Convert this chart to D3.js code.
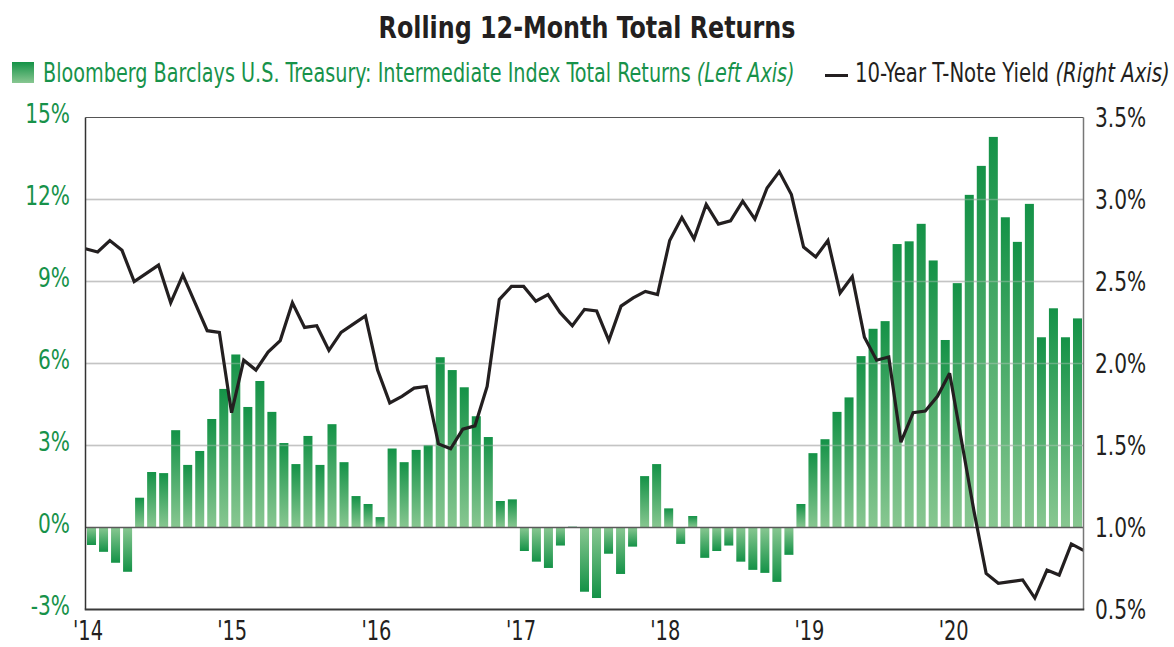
<!DOCTYPE html>
<html>
<head>
<meta charset="utf-8">
<script src="https://cdn.jsdelivr.net/npm/d3@7"></script>
<style>
  body { margin: 0; background: #fff; }
  svg { display: block; }
  text { font-family: "Liberation Sans Narrow", "Arial Narrow", "DejaVu Sans Condensed", sans-serif; }
</style>
</head>
<body>
<svg id="chart" width="1174" height="647"></svg>
<script>
// monthly bars: Jan 2014 .. Nov 2020
const months = d3.timeMonth.range(new Date(2014, 0, 1), new Date(2020, 11, 1));

// Bloomberg Barclays U.S. Treasury: Intermediate, rolling 12-month total return (%)
const treasuryReturns = [
  -0.64, -0.89, -1.29, -1.62, 1.09, 2.03, 1.99, 3.56, 2.29, 2.80, 3.97, 5.07,
  6.33, 4.41, 5.36, 4.23, 3.09, 2.32, 3.35, 2.29, 3.78, 2.39, 1.15, 0.86,
  0.38, 2.89, 2.39, 2.84, 3.01, 6.23, 5.76, 5.13, 4.07, 3.31, 0.97, 1.03,
  -0.86, -1.25, -1.48, -0.66, 0.03, -2.35, -2.58, -0.96, -1.70, -0.70, 1.88, 2.32,
  0.70, -0.60, 0.42, -1.11, -0.86, -0.66, -1.25, -1.55, -1.66, -1.99, -1.00, 0.86,
  2.72, 3.23, 4.23, 4.76, 6.27, 7.27, 7.55, 10.37, 10.47, 11.11, 9.77, 6.86,
  8.94, 12.17, 13.23, 14.29, 11.35, 10.45, 11.84, 6.96, 8.02, 6.96, 7.65
];

// 10-year T-note yield (%)
const noteYield = [
  2.70, 2.68, 2.75, 2.69, 2.50, 2.55, 2.60, 2.37, 2.54, 2.37, 2.20, 2.19,
  1.70, 2.02, 1.96, 2.07, 2.14, 2.37, 2.22, 2.23, 2.08, 2.19, 2.24, 2.29,
  1.96, 1.76, 1.80, 1.85, 1.86, 1.51, 1.48, 1.60, 1.62, 1.86, 2.39, 2.47,
  2.47, 2.38, 2.42, 2.31, 2.23, 2.33, 2.32, 2.14, 2.35, 2.40, 2.44, 2.42,
  2.75, 2.89, 2.76, 2.97, 2.85, 2.87, 2.99, 2.88, 3.07, 3.17, 3.03, 2.71,
  2.65, 2.75, 2.43, 2.53, 2.16, 2.02, 2.04, 1.52, 1.70, 1.71, 1.80, 1.94,
  1.52, 1.10, 0.72, 0.66, 0.67, 0.68, 0.57, 0.74, 0.71, 0.90, 0.86
];

const leftTicks = [-3, 0, 3, 6, 9, 12, 15];
const rightTicks = [0.5, 1.0, 1.5, 2.0, 2.5, 3.0, 3.5];
const yearTicks = d3.timeYear.range(new Date(2014, 0, 1), new Date(2021, 0, 1));

const green = "#17924a", dark = "#231f20";
const svg = d3.select("#chart");
const p = { left: 85.5, right: 1083.5, top: 117.5, bottom: 609.5 };
const squeeze = 0.83; // fallback font is wider than the original condensed face

const xb = d3.scaleBand().domain(months).range([p.left, p.right]).paddingInner(0.25).paddingOuter(0.125);
const xl = d3.scalePoint().domain(months).range([p.left, p.right]);
const xt = d3.scaleTime().domain([months[0], new Date(2020, 11, 1)]).range([p.left, p.right]);
const yL = d3.scaleLinear().domain([-3, 15]).range([p.bottom, p.top]);
const yR = d3.scaleLinear().domain([0.5, 3.5]).range([p.bottom, p.top]);

const defs = svg.append("defs");
function grad(id, c0, c1) {
  const g = defs.append("linearGradient").attr("id", id).attr("x1", 0).attr("y1", 0).attr("x2", 0).attr("y2", 1);
  g.append("stop").attr("offset", "0%").attr("stop-color", c0);
  g.append("stop").attr("offset", "100%").attr("stop-color", c1);
}
grad("gPos", "#149247", "#88c791");
grad("gNeg", "#88c791", "#149247");

// gridlines under the bars
const grid = leftTicks.filter(d => d > -3 && d < 15 && d !== 0);
svg.append("g").selectAll("line").data(grid).join("line")
  .attr("x1", p.left).attr("x2", p.right).attr("y1", d => yL(d)).attr("y2", d => yL(d))
  .attr("stroke", "#bdbdbd").attr("stroke-width", 1.5);

svg.append("g").selectAll("rect").data(treasuryReturns).join("rect")
  .attr("x", (d, i) => xb(months[i]))
  .attr("width", xb.bandwidth())
  .attr("y", d => yL(Math.max(d, 0)))
  .attr("height", d => Math.abs(yL(d) - yL(0)))
  .attr("fill", d => d >= 0 ? "url(#gPos)" : "url(#gNeg)");

// faint gridlines showing through the bars
svg.append("g").selectAll("line").data(grid).join("line")
  .attr("x1", p.left).attr("x2", p.right).attr("y1", d => yL(d)).attr("y2", d => yL(d))
  .attr("stroke", "#d0d0d0").attr("stroke-opacity", 0.35).attr("stroke-width", 1.5);

svg.append("line").attr("x1", p.left).attr("x2", p.right).attr("y1", yL(0)).attr("y2", yL(0))
  .attr("stroke", "#5a5a5a").attr("stroke-width", 1.5);

const line = d3.line().x((d, i) => xl(months[i])).y(d => yR(d));
svg.append("path").datum(noteYield).attr("d", line)
  .attr("fill", "none").attr("stroke", dark).attr("stroke-width", 3.2)
  .attr("stroke-linejoin", "miter").attr("stroke-miterlimit", 3);

// frame
svg.append("line").attr("x1", p.left).attr("x2", p.right).attr("y1", p.top).attr("y2", p.top).attr("stroke", "#555").attr("stroke-width", 1.2);
svg.append("line").attr("x1", p.right).attr("x2", p.right).attr("y1", p.top).attr("y2", p.bottom).attr("stroke", "#777").attr("stroke-width", 1.5);
svg.append("line").attr("x1", p.left).attr("x2", p.left).attr("y1", p.top).attr("y2", p.bottom).attr("stroke", "#333").attr("stroke-width", 1.5);
svg.append("line").attr("x1", p.left - 0.75).attr("x2", p.right + 0.75).attr("y1", p.bottom).attr("y2", p.bottom).attr("stroke", "#3a3a3a").attr("stroke-width", 2.2);

// axes
const axL = svg.append("g").attr("transform", `translate(70,-4) scale(${squeeze},1)`)
  .call(d3.axisLeft(yL).tickValues(leftTicks).tickFormat(d => d + "%").tickSize(0).tickPadding(0));
const axR = svg.append("g").attr("transform", `translate(1095,0) scale(${squeeze},1)`)
  .call(d3.axisRight(yR).tickValues(rightTicks).tickFormat(d => d.toFixed(1) + "%").tickSize(0).tickPadding(0));
const axB = svg.append("g").attr("transform", "translate(2,622)")
  .call(d3.axisBottom(xt).tickValues(yearTicks).tickFormat(d3.timeFormat("'%y")).tickSize(0).tickPadding(0));
[axL, axR, axB].forEach(a => {
  a.select(".domain").remove();
  a.selectAll("text").attr("font-family", null).style("font-size", "27px");
});
axL.selectAll("text").attr("fill", green);
axR.selectAll("text").attr("fill", dark);
axB.selectAll("text").attr("fill", dark).style("font-size", "26px").attr("transform", `scale(${squeeze},1)`);

// squeeze text horizontally to the width it takes in the picture
function fit(sel, targetW, ax) {
  const w = sel.node().getBBox().width;
  const s = targetW / w;
  sel.attr("transform", `translate(${ax},0) scale(${s},1) translate(${-ax},0)`);
}

const title = svg.append("text").attr("x", 587).attr("y", 38).attr("text-anchor", "middle")
  .attr("fill", dark).style("font-size", "30px").style("font-weight", "bold")
  .text("Rolling 12-Month Total Returns");
fit(title, 417, 587);

svg.append("rect").attr("x", 12).attr("y", 62).attr("width", 22).attr("height", 21).attr("fill", "url(#gPos)");
const lg1 = svg.append("text").attr("x", 43).attr("y", 82).attr("fill", green).style("font-size", "26px");
lg1.append("tspan").text("Bloomberg Barclays U.S. Treasury: Intermediate Index Total Returns ");
lg1.append("tspan").style("font-style", "italic").text("(Left Axis)");
fit(lg1, 752, 43);

svg.append("line").attr("x1", 825).attr("x2", 848).attr("y1", 75.5).attr("y2", 75.5).attr("stroke", dark).attr("stroke-width", 3);
const lg2 = svg.append("text").attr("x", 855).attr("y", 82).attr("fill", dark).style("font-size", "26px");
lg2.append("tspan").text("10-Year T-Note Yield ");
lg2.append("tspan").style("font-style", "italic").text("(Right Axis)");
fit(lg2, 315, 855);
</script>
</body>
</html>
